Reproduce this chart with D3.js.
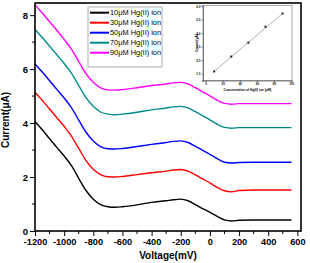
<!DOCTYPE html>
<html><head><meta charset="utf-8">
<script src="https://cdn.jsdelivr.net/npm/d3@7/dist/d3.min.js"></script>
<style>
body{margin:0;background:#fff;}
svg{display:block;font-family:"Liberation Sans",Arial,sans-serif;}
</style></head>
<body>
<svg id="c" width="310" height="263"></svg>
<script>
const voltages = [-1200,-1150,-1100,-1050,-1000,-950,-900,-850,-800,-750,-700,-650,-600,-500,-400,-300,-250,-200,-150,-100,-50,0,50,100,150,200,300,400,560];
const s10 = [4.06,3.75,3.42,3.10,2.78,2.42,1.95,1.50,1.18,0.98,0.90,0.88,0.90,0.97,1.06,1.12,1.16,1.18,1.12,0.98,0.83,0.69,0.54,0.41,0.37,0.40,0.41,0.41,0.41];
const s30 = [5.14,4.84,4.52,4.20,3.88,3.52,3.06,2.61,2.29,2.09,2.01,2.00,2.02,2.09,2.16,2.22,2.26,2.28,2.22,2.08,1.93,1.78,1.62,1.49,1.45,1.50,1.52,1.52,1.52];
const s50 = [6.19,5.89,5.57,5.25,4.93,4.57,4.11,3.66,3.34,3.13,3.05,3.04,3.06,3.13,3.21,3.28,3.32,3.34,3.28,3.14,2.99,2.84,2.68,2.55,2.52,2.54,2.55,2.55,2.55];
const s70 = [7.47,7.17,6.85,6.53,6.21,5.85,5.39,4.94,4.62,4.41,4.33,4.31,4.33,4.40,4.49,4.56,4.60,4.62,4.56,4.42,4.27,4.12,3.96,3.84,3.81,3.83,3.83,3.83,3.83];
const s90 = [8.38,8.08,7.76,7.44,7.10,6.74,6.28,5.83,5.51,5.30,5.23,5.22,5.24,5.31,5.39,5.45,5.49,5.51,5.45,5.31,5.16,5.01,4.85,4.73,4.70,4.72,4.72,4.72,4.72];
const seriesNames = ["10\u03bcM Hg(II) ion","30\u03bcM Hg(II) ion","50\u03bcM Hg(II) ion","70\u03bcM Hg(II) ion","90\u03bcM Hg(II) ion"];
const seriesColors = ["#000000","#ff0000","#0000ff","#008b8b","#ff00ff"];
const xTicks = [-1200,-1000,-800,-600,-400,-200,0,200,400,600];
const yTicks = [0,2,4,6,8];
// inset
const insetConc = [10,30,50,70,90];
const insetCurrent = [1.17,2.27,3.30,4.48,5.46];
const insetXTicks = [0,20,40,60,80,100];
const insetYTicks = [1,2,3,4,5,6];

const allSeries = [s10,s30,s50,s70,s90];
const svg = d3.select("#c");
const L=35,R=301,T=3,B=231;
const x = d3.scaleLinear().domain([-1200,625]).range([L,R]);
const y = d3.scaleLinear().domain([0,8.45]).range([B,T]);

// curves
const line = d3.line().x(d=>x(d[0])).y(d=>y(d[1])).curve(d3.curveMonotoneX);
allSeries.forEach((s,i)=>{
  svg.append("path").attr("d",line(voltages.map((v,j)=>[v,s[j]])))
    .attr("fill","none").attr("stroke",seriesColors[i]).attr("stroke-width",1.4);
});

// axes
const xAxis = d3.axisBottom(x).tickValues(xTicks).tickSize(5).tickPadding(2).tickFormat(d3.format("d"));
const gx = svg.append("g").attr("transform",`translate(0,${B})`).call(xAxis);
const xMinor = d3.range(-1100,700,200);
gx.selectAll(".minor").data(xMinor).enter().append("line").attr("x1",d=>x(d)).attr("x2",d=>x(d)).attr("y1",0).attr("y2",3).attr("stroke","#000").attr("stroke-width",1);
const yAxis = d3.axisLeft(y).tickValues(yTicks).tickSize(5).tickPadding(2);
const gy = svg.append("g").attr("transform",`translate(${L},0)`).call(yAxis);
gy.selectAll(".minor").data([1,3,5,7]).enter().append("line").attr("y1",d=>y(d)).attr("y2",d=>y(d)).attr("x1",0).attr("x2",-3).attr("stroke","#000");
[gx,gy].forEach(g=>{
  g.select(".domain").remove();
  g.selectAll(".tick line").attr("stroke","#000").attr("stroke-width",1);
  g.selectAll("text").attr("font-size",9.5).attr("font-weight","bold").attr("fill","#000").attr("font-family","Liberation Sans, Arial, sans-serif");
});
gx.selectAll("text").attr("font-size",9.2).text(d=>String(d).replace("-","\u2011"));
gx.selectAll("text").text(d=>d3.format("d")(d).replace("\u2212","-"));
svg.append("rect").attr("x",L).attr("y",T).attr("width",R-L).attr("height",B-T)
  .attr("fill","none").attr("stroke","#000").attr("stroke-width",1.6);

svg.append("text").attr("x",(L+R)/2).attr("y",259).attr("text-anchor","middle")
  .attr("font-size",10).attr("font-weight","bold").text("Voltage(mV)");
svg.append("text").attr("transform","translate(9,120) rotate(-90)").attr("text-anchor","middle")
  .attr("font-size",10).attr("font-weight","bold").text("Current(\u03bcA)");

// legend
const lg = svg.append("g");
lg.append("rect").attr("x",88).attr("y",7).attr("width",74).attr("height",60)
  .attr("fill","#fff").attr("stroke","#999").attr("stroke-width",0.8);
seriesNames.forEach((n,i)=>{
  const yy = 12.7 + i*10;
  lg.append("line").attr("x1",90).attr("x2",109).attr("y1",yy).attr("y2",yy)
    .attr("stroke",seriesColors[i]).attr("stroke-width",2);
  lg.append("text").attr("x",110).attr("y",yy+2.6).attr("font-size",7.4).text(n);
});

// inset
const iL=203,iR=292,iT=5.5,iB=80.5;
const ix = d3.scaleLinear().domain([-3,101]).range([iL,iR]);
const iy = d3.scaleLinear().domain([0.5,6.05]).range([iB,iT]);
const ig = svg.append("g");
ig.append("rect").attr("x",iL).attr("y",iT).attr("width",iR-iL).attr("height",iB-iT)
  .attr("fill","#fff").attr("stroke","#999").attr("stroke-width",0.8);
const igx = ig.append("g").attr("transform",`translate(0,${iB})`)
  .call(d3.axisBottom(ix).tickValues(insetXTicks).tickSize(1.5).tickPadding(1));
const igy = ig.append("g").attr("transform",`translate(${iL},0)`)
  .call(d3.axisLeft(iy).tickValues(insetYTicks).tickSize(1.5).tickPadding(1));
[igx,igy].forEach(g=>{
  g.select(".domain").attr("stroke","#333").attr("stroke-width",0.6);
  g.selectAll(".tick line").attr("stroke","#333").attr("stroke-width",0.6);
  g.selectAll("text").attr("font-size",3).attr("font-weight","bold").attr("fill","#000");
});
ig.append("text").attr("x",(iL+iR)/2).attr("y",91).attr("text-anchor","middle")
  .attr("font-size",3.2).attr("font-weight","bold").text("Concentration of Hg(II) ion (\u03bcM)");
ig.append("text").attr("transform",`translate(197.5,${(iT+iB)/2}) rotate(-90)`).attr("text-anchor","middle")
  .attr("font-size",3.2).attr("font-weight","bold").text("Current(\u03bcA)");
ig.append("line").attr("x1",ix(insetConc[0])).attr("y1",iy(insetCurrent[0]))
  .attr("x2",ix(insetConc[4])).attr("y2",iy(insetCurrent[4])).attr("stroke","#999").attr("stroke-width",0.8);
ig.selectAll(".pt").data(insetConc).enter().append("rect")
  .attr("x",(d)=>ix(d)-1).attr("y",(d,i)=>iy(insetCurrent[i])-1).attr("width",2).attr("height",2).attr("fill","#222");
</script>
</body></html>
